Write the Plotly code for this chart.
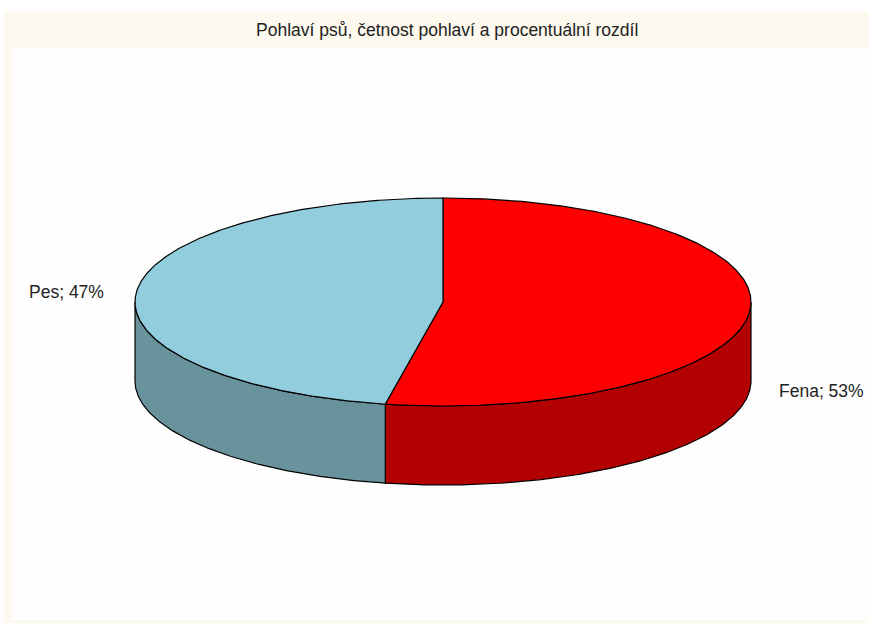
import numpy as np
import plotly.graph_objects as go

# ---- data ----
labels = ["Fena", "Pes"]
values = [53, 47]
top_colors = ["#ff0000", "#91cddc"]
side_colors = ["#b30000", "#68929c"]
title = "Pohlaví psů, četnost pohlaví a procentuální rozdíl"

# ---- geometry (pixel space) ----
W, H = 869, 623
cx, cy = 443, 302
a, b = 308, 104
depth = 79

def pt(theta_deg, dy=0.0):
    t = np.radians(theta_deg)
    return cx + a * np.sin(t), cy - b * np.cos(t) + dy

fig = go.Figure()

total = float(sum(values))
bounds = [0.0]
for v in values:
    bounds.append(bounds[-1] + 360.0 * v / total)

# sides (front visible part: theta in [90, 270])
for i in range(len(values)):
    s, e = bounds[i], bounds[i + 1]
    lo, hi = max(s, 90.0), min(e, 270.0)
    if hi <= lo:
        continue
    th = np.linspace(lo, hi, 200)
    xt, yt = pt(th)
    xb, yb = pt(th[::-1], depth)
    xs = np.concatenate([xt, xb, xt[:1]])
    ys = np.concatenate([yt, yb, yt[:1]])
    fig.add_trace(go.Scatter(x=xs, y=ys, mode="lines", fill="toself",
                             fillcolor=side_colors[i],
                             line=dict(color="black", width=1.2),
                             hoverinfo="skip", showlegend=False))

# tops
for i in range(len(values)):
    s, e = bounds[i], bounds[i + 1]
    th = np.linspace(s, e, 400)
    xt, yt = pt(th)
    xs = np.concatenate([[cx], xt, [cx]])
    ys = np.concatenate([[cy], yt, [cy]])
    fig.add_trace(go.Scatter(x=xs, y=ys, mode="lines", fill="toself",
                             fillcolor=top_colors[i],
                             line=dict(color="black", width=1.2),
                             hoverinfo="skip", showlegend=False))

# labels
annotations = []
for i in range(len(values)):
    mid = (bounds[i] + bounds[i + 1]) / 2.0
    t = np.radians(mid)
    lx = cx + 1.1 * a * np.sin(t)
    ly = cy - b * np.cos(t) + (depth if np.cos(t) < 0 else 0)
    pct = round(100 * values[i] / total)
    annotations.append(dict(x=lx, y=ly, xref="x", yref="y",
                            text=f"{labels[i]}; {pct}%", showarrow=False,
                            xanchor="left" if np.sin(t) > 0 else "right",
                            yanchor="middle", xshift=-3 if np.sin(t) > 0 else 0,
                            font=dict(family="Liberation Sans, Arial", size=17.5, color="#222222")))

annotations.append(dict(x=447, y=30, xref="x", yref="y", text=title, showarrow=False,
                        xanchor="center", yanchor="middle",
                        font=dict(family="Liberation Sans, Arial", size=17.5, color="#222222")))

shapes = [
    dict(type="rect", xref="x", yref="y", x0=4, x1=W + 5, y0=11, y1=H + 5,
         fillcolor="#fdf9ee", line=dict(width=0), layer="below"),
    dict(type="rect", xref="x", yref="y", x0=12, x1=W + 5, y0=48, y1=620,
         fillcolor="#fefefe", line=dict(width=0), layer="below"),
]

fig.update_layout(
    width=W, height=H,
    margin=dict(l=0, r=0, t=0, b=0),
    paper_bgcolor="white", plot_bgcolor="white",
    xaxis=dict(range=[0, W], visible=False, fixedrange=True),
    yaxis=dict(range=[H, 0], visible=False, fixedrange=True),
    shapes=shapes, annotations=annotations,
)

fig.write_html("out.html")
